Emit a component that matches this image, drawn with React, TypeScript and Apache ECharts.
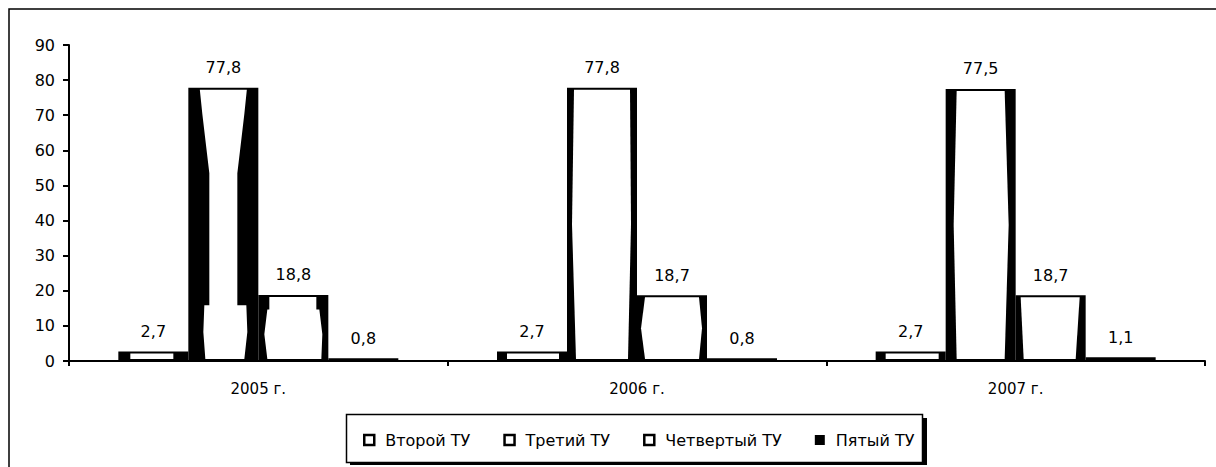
import React, { useEffect, useRef } from "react";
import * as echarts from "echarts";

const categories = ["2005 г.", "2006 г.", "2007 г."];
const seriesNames = ["Второй ТУ", "Третий ТУ", "Четвертый ТУ", "Пятый ТУ"];
const vtoroy = [2.7, 2.7, 2.7];
const tretiy = [77.8, 77.8, 77.5];
const chetvertyy = [18.8, 18.7, 18.7];
const pyatyy = [0.8, 0.8, 1.1];
const yTicks = [0, 10, 20, 30, 40, 50, 60, 70, 80, 90];

// Style only: the black side thickness of each hollow bar, as
// [fraction of bar height from top, left px, right px]
const hollowProfiles: number[][][][] = [
  [
    [[0, 12, 15], [1, 12, 15]],
    [[0, 10, 8], [1, 10, 8]],
    [[0, 10, 7], [1, 10, 7]],
  ],
  [
    [
      [0, 11.5, 11.5], [0.09, 14, 14], [0.2, 17.5, 17.5], [0.31, 21, 21],
      [0.8, 21, 21], [0.8, 16, 12], [0.9, 15, 11], [1, 17, 14],
    ],
    [[0, 7, 7], [0.5, 5, 6], [1, 9, 9]],
    [[0, 11, 11], [0.5, 8, 7], [1, 11, 11]],
  ],
  [
    [[0, 11, 12], [0.2, 11, 12], [0.2, 9, 9], [0.6, 6, 6], [1, 9, 7]],
    [[0, 8, 8], [0.5, 4, 5], [1, 8, 8]],
    [[0, 5, 6], [1, 8, 10]],
  ],
];

const FONT = "DejaVu Sans";
const FS = 16;
const BAR_W = 70;

export default function App() {
  const ref = useRef<HTMLDivElement>(null);
  useEffect(() => {
    if (!ref.current) return;
    const chart = echarts.init(ref.current, null, { renderer: "svg" });
    const values = [vtoroy, tretiy, chetvertyy, pyatyy];
    const fmt = (v: number) => String(v).replace(".", ",");

    const barSeries = seriesNames.map((name, i) => ({
      name,
      type: "bar",
      data: values[i],
      barWidth: BAR_W,
      barGap: "0%",
      z: 2,
      itemStyle: { color: "#000000" },
      label: {
        show: true,
        position: "top",
        distance: 12,
        color: "#000",
        fontFamily: FONT,
        fontSize: FS,
        formatter: (p: any) => fmt(p.value),
      },
    }));

    const hollowData: number[][] = [];
    for (let s = 0; s < 3; s++) {
      for (let c = 0; c < categories.length; c++) {
        hollowData.push([c, values[s][c], s]);
      }
    }

    const hollowSeries = {
      name: "hollow",
      type: "custom",
      z: 3,
      silent: true,
      data: hollowData,
      renderItem: (params: any, api: any) => {
        const c = api.value(0);
        const v = api.value(1);
        const s = api.value(2);
        const top = api.coord([c, v]);
        const base = api.coord([c, 0]);
        const x0 = top[0] - (BAR_W * 4) / 2 + BAR_W * s;
        const x1 = x0 + BAR_W;
        const yt = top[1] + 2;
        const yb = base[1] - 2;
        const h = yb - yt;
        if (h <= 0) return null;
        const prof = hollowProfiles[s][c];
        const left = prof.map((p) => [x0 + p[1], yt + p[0] * h]);
        const right = prof
          .slice()
          .reverse()
          .map((p) => [x1 - p[2], yt + p[0] * h]);
        return {
          type: "polygon",
          shape: { points: left.concat(right) },
          style: { fill: "#ffffff", stroke: "none" },
        };
      },
    };

    chart.setOption({
      animation: false,
      backgroundColor: "#ffffff",
      grid: { left: 69, right: 11, top: 45, bottom: 106, containLabel: false },
      graphic: [
        {
          type: "rect",
          z: 0,
          silent: true,
          shape: { x: 9, y: 9, width: 1240, height: 480 },
          style: { fill: "none", stroke: "#000", lineWidth: 1.5 },
        },
        {
          type: "rect",
          z: 0,
          silent: true,
          shape: { x: 350, y: 418, width: 577, height: 47 },
          style: { fill: "#000" },
        },
        {
          type: "rect",
          z: 1,
          silent: true,
          shape: { x: 346.5, y: 414.5, width: 576, height: 48 },
          style: { fill: "#fff", stroke: "#000", lineWidth: 1.5 },
        },
      ],
      legend: {
        z: 10,
        left: 363,
        top: 432,
        padding: 0,
        itemGap: 33,
        itemWidth: 10,
        itemHeight: 10,
        icon: "rect",
        textStyle: { fontFamily: FONT, fontSize: FS, color: "#000", padding: [0, 0, 0, 6] },
        data: seriesNames.map((name, i) => ({
          name,
          itemStyle:
            i === 3
              ? { color: "#000", borderColor: "#000", borderWidth: 0 }
              : { color: "#fff", borderColor: "#000", borderWidth: 2.5 },
        })),
      },
      xAxis: {
        type: "category",
        data: categories,
        axisLine: { lineStyle: { color: "#000", width: 2 } },
        axisTick: { show: true, length: 5, lineStyle: { color: "#000", width: 2 } },
        axisLabel: { color: "#000", fontFamily: FONT, fontSize: FS - 1, margin: 20 },
        splitLine: { show: false },
      },
      yAxis: {
        type: "value",
        min: yTicks[0],
        max: yTicks[yTicks.length - 1],
        interval: 10,
        axisLine: { show: true, lineStyle: { color: "#000", width: 2 } },
        axisTick: { show: true, length: 6, lineStyle: { color: "#000", width: 2 } },
        axisLabel: { color: "#000", fontFamily: FONT, fontSize: FS, margin: 14 },
        splitLine: { show: false },
      },
      series: [...barSeries, hollowSeries],
    });
    return () => chart.dispose();
  }, []);
  return (
    <div
      ref={ref}
      style={{ position: "fixed", left: 0, top: 0, width: 1216, height: 467 }}
    />
  );
}
